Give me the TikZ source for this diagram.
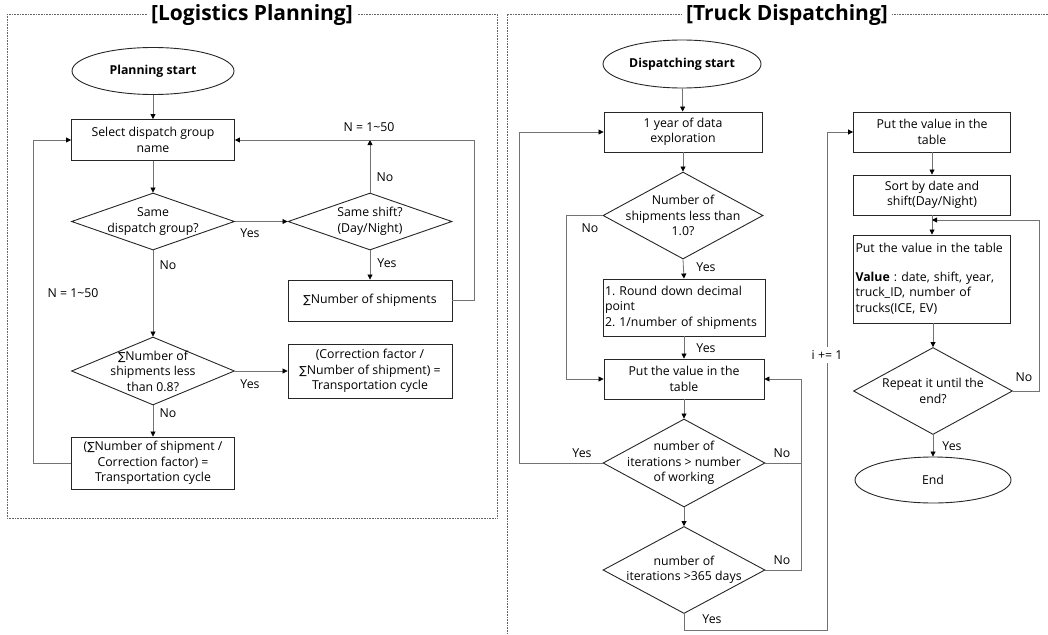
\documentclass[tikz,border=0pt]{standalone}
\usepackage{fontspec}
\setmainfont{Open Sans}
\newfontfamily\symfont{DejaVu Sans}
\newcommand{\sumsym}{{\symfont\fontsize{11}{15.5}\selectfont ∑}}
\usetikzlibrary{shapes.geometric,arrows.meta,calc}
\frenchspacing
\begin{document}
\begin{tikzpicture}[x=1pt,y=-1pt,
  every node/.style={font=\fontsize{12.3}{15.5}\selectfont},
  box/.style={draw=black!85,line width=0.9pt,rectangle,align=center,inner sep=2pt},
  lbox/.style={draw=black!85,line width=0.9pt,rectangle,align=left,inner sep=2pt},
  dia/.style={draw=black!85,line width=0.9pt,diamond,inner sep=0pt},
  ell/.style={draw=black!85,line width=0.9pt,ellipse,inner sep=0pt,font=\fontsize{12.3}{15.5}\selectfont\bfseries},
  dtext/.style={align=center,inner sep=0pt},
  conn/.style={draw=black!55,line width=0.8pt,-{Triangle[length=5pt,width=5pt,color=black]}},
  line/.style={draw=black!55,line width=0.8pt},
  lab/.style={inner sep=1pt},
  frame/.style={draw=black!60,line width=0.6pt,densely dotted},
  ttl/.style={fill=white,inner sep=4pt,font=\fontsize{21}{24}\selectfont\bfseries}
]
\useasboundingbox (0,0) rectangle (1048,634);

% ---------- frames ----------
\draw[frame] (7,14) rectangle (497,518);
\node[ttl] (t1) at (252,15) {[Logistics Planning]};
\draw[frame] (507,640) -- (507,14) -- (1055,14);
\node[ttl] (t2) at (787,15) {[Truck Dispatching]};

% ---------- Logistics Planning ----------
\node[ell,minimum width=162pt,minimum height=47pt] (ps) at (153,71) {Planning start};
\node[box,minimum width=163pt,minimum height=41pt] (sel) at (153,140) {Select dispatch group\\name};
\node[dia,minimum width=163pt,minimum height=57pt] (d1) at (153,221.5) {};
\node[dtext] at (d1) {Same\\dispatch group?};
\node[dia,minimum width=164pt,minimum height=57pt] (d2) at (370,221.5) {};
\node[dtext] at (d2) {Same shift?\\(Day/Night)};
\node[box,minimum width=164pt,minimum height=41pt] (sum) at (370,300.5) {\sumsym Number of shipments};
\node[dia,minimum width=163pt,minimum height=68pt] (d3) at (153,371) {};
\node[dtext] at (d3) {\sumsym Number of\\shipments less\\than 0.8?};
\node[box,minimum width=164pt,minimum height=54pt] (cf) at (370,371) {(Correction factor /\\\sumsym Number of shipment) =\\Transportation cycle};
\node[box,minimum width=163pt,minimum height=52pt] (tc) at (153,463) {(\sumsym Number of shipment /\\Correction factor) =\\Transportation cycle};

\draw[conn] (ps) -- (sel);
\draw[conn] (sel) -- (d1);
\draw[conn] (d1.east) -- (d2.west);
\draw[conn] (d2.south) -- (sum.north);
\draw[conn] (d2.north) -- (d2.north |- sel.east);
\draw[conn] (sum.east) -- ++(22,0) |- (sel.east);
\draw[conn] (d1.south) -- (d3.north);
\draw[conn] (d3.east) -- (cf.west);
\draw[conn] (d3.south) -- (tc.north);
\draw[conn] (tc.west) -- ++(-38,0) |- (sel.west);

\node[lab] (y1) at (250,233) {Yes};
\node[lab] (n1) at (168,265) {No};
\node[lab] (y2) at (387,263) {Yes};
\node[lab] (n2) at (385,177) {No};
\node[lab] (nn1) at (369,127) {N = 1\textasciitilde50};
\node[lab] (nn2) at (73,293) {N = 1\textasciitilde50};
\node[lab] (y3) at (250,384) {Yes};
\node[lab] (n3) at (168,413) {No};

% ---------- Truck Dispatching ----------
\node[ell,minimum width=158pt,minimum height=48pt] (ds) at (682,64) {Dispatching start};
\node[box,minimum width=158pt,minimum height=40pt] (yr) at (683,132) {1 year of data\\exploration};
\node[dia,minimum width=160pt,minimum height=87pt] (dsh) at (683,215.5) {};
\node[dtext] at (dsh) {Number of\\shipments less than\\1.0?};
\node[lbox,minimum width=160pt,minimum height=57pt,text width=158pt] (rd) at (684,307.5) {1. Round down decimal\\point\\2. 1/number of shipments};
\node[box,minimum width=160pt,minimum height=40pt] (pv1) at (684,379) {Put the value in the\\table};
\node[dia,minimum width=162pt,minimum height=88pt] (dit) at (684,463) {};
\node[dtext] at (dit) {number of\\iterations > number\\of working};
\node[dia,minimum width=162pt,minimum height=87pt] (d365) at (684,570) {};
\node[dtext] at (d365) {number of\\iterations >365 days};

\node[box,minimum width=157pt,minimum height=40pt] (pv2) at (932,132) {Put the value in the\\table};
\node[box,minimum width=157pt,minimum height=40pt] (srt) at (932,195) {Sort by date and\\shift(Day/Night)};
\node[lbox,minimum width=157pt,minimum height=88pt,text width=153pt,inner sep=2pt] (val) at (932,279) {Put the value in the table\\[13pt]\textbf{Value} : date, shift, year,\\truck\_ID, number of\\trucks(ICE, EV)};
\node[dia,minimum width=159pt,minimum height=87pt] (drp) at (933,391) {};
\node[dtext] at (drp) {Repeat it until the\\end?};
\node[ell,minimum width=156pt,minimum height=46pt,font=\fontsize{12.3}{15.5}\selectfont] (en) at (933,480) {End};

\coordinate (lpL) at (519,463);
\coordinate (lpN) at (566,215.5);
\coordinate (lpR) at (801,463);
\coordinate (lpB) at (827,630);
\coordinate (lpT) at (1039,220);

\draw[conn] (ds) -- (yr);
\draw[conn] (yr) -- (dsh);
\draw[conn] (dsh.south) -- (rd.north);
\draw[conn] (rd.south) -- (pv1.north);
\draw[conn] (pv1) -- (dit);
\draw[conn] (dit.south) -- (d365.north);
\draw[conn] (dsh.west) -- (lpN) |- (pv1.west);
\draw[conn] (dit.west) -- (lpL) |- (yr.west);
\draw[conn] (dit.east) -- (lpR) |- (pv1.east);
\draw[line] (d365.east) -| (lpR);
\draw[conn] (d365.south) |- (lpB) |- (pv2.west);
\draw[conn] (pv2) -- (srt);
\draw[conn] (srt.south) -- (srt.south |- val.north);
\draw[conn] (val.south -| drp.north) -- (drp.north);
\draw[conn] (drp.south) -- (en.north);
\draw[conn] (drp.east) -| (lpT) -- (lpT -| srt.south);

\node[lab] (n4) at (590,228) {No};
\node[lab] (y4) at (706,267) {Yes};
\node[lab] (y5) at (706,348) {Yes};
\node[lab] (y6) at (582,453) {Yes};
\node[lab] (n5) at (782,453) {No};
\node[lab] (n6) at (782,560) {No};
\node[lab] (y7) at (712,619) {Yes};
\node[lab,fill=white,inner sep=3pt] (inc) at (827,355) {i += 1};
\node[lab] (n7) at (1024,377) {No};
\node[lab] (y8) at (952,446) {Yes};
\end{tikzpicture}
\end{document}
